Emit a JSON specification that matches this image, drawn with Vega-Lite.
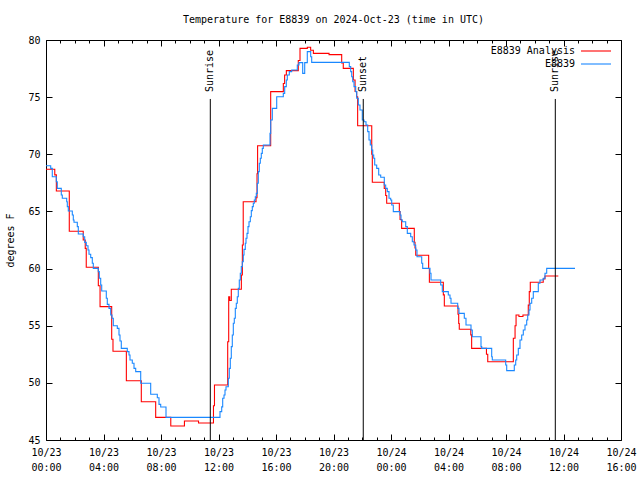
{
  "$schema": "https://vega.github.io/schema/vega-lite/v6.json",
  "width": 575,
  "height": 400,
  "autosize": "none",
  "padding": {"left": 46, "top": 40, "right": 19, "bottom": 40},
  "background": "white",
  "config": {
    "view": {"stroke": "black", "strokeWidth": 1},
    "font": "DejaVu Sans Mono",
    "axis": {"grid": false, "domain": false, "tickColor": "black", "labelColor": "black", "labelFont": "DejaVu Sans Mono", "labelFontSize": 10, "titleFont": "DejaVu Sans Mono", "titleFontSize": 10, "titleFontWeight": "normal", "titleColor": "black"}
  },
  "title": {"text": "Temperature for E8839 on 2024-Oct-23 (time in UTC)", "font": "DejaVu Sans Mono", "fontSize": 10, "fontWeight": "normal", "color": "black", "anchor": "middle", "offset": 10},
  "datasets": {
    "temps": [
      {"series": "E8839 Analysis", "h": 0, "T": 68.69},
      {"series": "E8839 Analysis", "h": 0.61, "T": 68.2},
      {"series": "E8839 Analysis", "h": 0.72, "T": 66.79},
      {"series": "E8839 Analysis", "h": 1.62, "T": 63.26},
      {"series": "E8839 Analysis", "h": 2.59, "T": 62.5},
      {"series": "E8839 Analysis", "h": 2.73, "T": 61.77},
      {"series": "E8839 Analysis", "h": 2.8, "T": 60.11},
      {"series": "E8839 Analysis", "h": 3.64, "T": 58.5},
      {"series": "E8839 Analysis", "h": 3.76, "T": 56.67},
      {"series": "E8839 Analysis", "h": 4.57, "T": 53.81},
      {"series": "E8839 Analysis", "h": 4.66, "T": 52.76},
      {"series": "E8839 Analysis", "h": 5.59, "T": 50.19},
      {"series": "E8839 Analysis", "h": 6.63, "T": 48.35},
      {"series": "E8839 Analysis", "h": 7.63, "T": 46.98},
      {"series": "E8839 Analysis", "h": 8.68, "T": 46.23},
      {"series": "E8839 Analysis", "h": 9.63, "T": 46.66},
      {"series": "E8839 Analysis", "h": 10.61, "T": 46.49},
      {"series": "E8839 Analysis", "h": 11.65, "T": 48.0},
      {"series": "E8839 Analysis", "h": 11.72, "T": 49.81},
      {"series": "E8839 Analysis", "h": 12.64, "T": 53.6},
      {"series": "E8839 Analysis", "h": 12.71, "T": 57.54},
      {"series": "E8839 Analysis", "h": 12.78, "T": 57.2},
      {"series": "E8839 Analysis", "h": 12.89, "T": 58.19},
      {"series": "E8839 Analysis", "h": 13.59, "T": 59.44},
      {"series": "E8839 Analysis", "h": 13.66, "T": 62.06},
      {"series": "E8839 Analysis", "h": 13.72, "T": 65.85},
      {"series": "E8839 Analysis", "h": 14.61, "T": 66.2},
      {"series": "E8839 Analysis", "h": 14.68, "T": 68.3},
      {"series": "E8839 Analysis", "h": 14.72, "T": 70.75},
      {"series": "E8839 Analysis", "h": 15.63, "T": 75.48},
      {"series": "E8839 Analysis", "h": 16.51, "T": 76.2},
      {"series": "E8839 Analysis", "h": 16.6, "T": 76.94},
      {"series": "E8839 Analysis", "h": 16.72, "T": 77.32},
      {"series": "E8839 Analysis", "h": 17.55, "T": 78.2},
      {"series": "E8839 Analysis", "h": 17.67, "T": 79.27},
      {"series": "E8839 Analysis", "h": 18.18, "T": 79.36},
      {"series": "E8839 Analysis", "h": 18.41, "T": 79.1},
      {"series": "E8839 Analysis", "h": 18.6, "T": 78.83},
      {"series": "E8839 Analysis", "h": 19.69, "T": 78.72},
      {"series": "E8839 Analysis", "h": 20.57, "T": 78.0},
      {"series": "E8839 Analysis", "h": 20.68, "T": 77.52},
      {"series": "E8839 Analysis", "h": 21.38, "T": 76.5},
      {"series": "E8839 Analysis", "h": 21.5, "T": 75.5},
      {"series": "E8839 Analysis", "h": 21.61, "T": 75.04},
      {"series": "E8839 Analysis", "h": 21.68, "T": 72.5},
      {"series": "E8839 Analysis", "h": 22.66, "T": 70.0},
      {"series": "E8839 Analysis", "h": 22.7, "T": 67.55},
      {"series": "E8839 Analysis", "h": 23.53, "T": 67.0},
      {"series": "E8839 Analysis", "h": 23.63, "T": 66.4},
      {"series": "E8839 Analysis", "h": 23.7, "T": 65.71},
      {"series": "E8839 Analysis", "h": 24.58, "T": 65.0},
      {"series": "E8839 Analysis", "h": 24.63, "T": 64.3},
      {"series": "E8839 Analysis", "h": 24.74, "T": 63.52},
      {"series": "E8839 Analysis", "h": 25.62, "T": 62.3},
      {"series": "E8839 Analysis", "h": 25.67, "T": 61.8},
      {"series": "E8839 Analysis", "h": 25.72, "T": 61.16},
      {"series": "E8839 Analysis", "h": 26.62, "T": 60.0},
      {"series": "E8839 Analysis", "h": 26.67, "T": 58.8},
      {"series": "E8839 Analysis", "h": 27.64, "T": 57.7},
      {"series": "E8839 Analysis", "h": 27.71, "T": 56.72},
      {"series": "E8839 Analysis", "h": 28.66, "T": 56.0},
      {"series": "E8839 Analysis", "h": 28.71, "T": 55.2},
      {"series": "E8839 Analysis", "h": 28.75, "T": 54.69},
      {"series": "E8839 Analysis", "h": 29.55, "T": 54.2},
      {"series": "E8839 Analysis", "h": 29.61, "T": 53.02},
      {"series": "E8839 Analysis", "h": 30.64, "T": 52.5},
      {"series": "E8839 Analysis", "h": 30.73, "T": 51.85},
      {"series": "E8839 Analysis", "h": 32.51, "T": 53.9},
      {"series": "E8839 Analysis", "h": 32.63, "T": 55.0},
      {"series": "E8839 Analysis", "h": 32.7, "T": 55.94},
      {"series": "E8839 Analysis", "h": 32.9, "T": 55.8},
      {"series": "E8839 Analysis", "h": 33.18, "T": 55.94},
      {"series": "E8839 Analysis", "h": 33.55, "T": 56.8},
      {"series": "E8839 Analysis", "h": 33.62, "T": 57.98},
      {"series": "E8839 Analysis", "h": 33.69, "T": 58.8},
      {"series": "E8839 Analysis", "h": 34.59, "T": 59.1},
      {"series": "E8839 Analysis", "h": 34.71, "T": 59.35},
      {"series": "E8839 Analysis", "h": 35.64, "T": 59.35},
      {"series": "E8839", "h": 0, "T": 69.0},
      {"series": "E8839", "h": 0.327, "T": 68.77},
      {"series": "E8839", "h": 0.438, "T": 68.04},
      {"series": "E8839", "h": 0.717, "T": 67.6},
      {"series": "E8839", "h": 0.786, "T": 67.02},
      {"series": "E8839", "h": 1.064, "T": 66.44},
      {"series": "E8839", "h": 1.134, "T": 66.15},
      {"series": "E8839", "h": 1.44, "T": 65.85},
      {"series": "E8839", "h": 1.482, "T": 65.42},
      {"series": "E8839", "h": 1.551, "T": 65.04},
      {"series": "E8839", "h": 1.83, "T": 64.69},
      {"series": "E8839", "h": 1.899, "T": 64.25},
      {"series": "E8839", "h": 1.948, "T": 64.05},
      {"series": "E8839", "h": 2.177, "T": 63.67},
      {"series": "E8839", "h": 2.247, "T": 63.02},
      {"series": "E8839", "h": 2.595, "T": 62.79},
      {"series": "E8839", "h": 2.692, "T": 62.29},
      {"series": "E8839", "h": 2.803, "T": 62.0},
      {"series": "E8839", "h": 2.922, "T": 61.63},
      {"series": "E8839", "h": 2.991, "T": 61.25},
      {"series": "E8839", "h": 3.11, "T": 60.96},
      {"series": "E8839", "h": 3.221, "T": 60.46},
      {"series": "E8839", "h": 3.29, "T": 60.02},
      {"series": "E8839", "h": 3.638, "T": 59.73},
      {"series": "E8839", "h": 3.708, "T": 59.15},
      {"series": "E8839", "h": 3.805, "T": 58.56},
      {"series": "E8839", "h": 3.875, "T": 58.04},
      {"series": "E8839", "h": 4.195, "T": 57.4},
      {"series": "E8839", "h": 4.264, "T": 56.87},
      {"series": "E8839", "h": 4.383, "T": 56.52},
      {"series": "E8839", "h": 4.501, "T": 55.94},
      {"series": "E8839", "h": 4.591, "T": 55.65},
      {"series": "E8839", "h": 4.682, "T": 55.0},
      {"series": "E8839", "h": 4.96, "T": 54.77},
      {"series": "E8839", "h": 5.078, "T": 54.19},
      {"series": "E8839", "h": 5.148, "T": 53.66},
      {"series": "E8839", "h": 5.238, "T": 53.02},
      {"series": "E8839", "h": 5.656, "T": 52.73},
      {"series": "E8839", "h": 5.774, "T": 52.44},
      {"series": "E8839", "h": 5.843, "T": 52.0},
      {"series": "E8839", "h": 6.003, "T": 51.71},
      {"series": "E8839", "h": 6.122, "T": 51.27},
      {"series": "E8839", "h": 6.24, "T": 50.98},
      {"series": "E8839", "h": 6.588, "T": 49.96},
      {"series": "E8839", "h": 7.283, "T": 49.0},
      {"series": "E8839", "h": 7.743, "T": 48.7},
      {"series": "E8839", "h": 7.861, "T": 48.12},
      {"series": "E8839", "h": 7.979, "T": 47.89},
      {"series": "E8839", "h": 8.348, "T": 46.98},
      {"series": "E8839", "h": 12.104, "T": 47.48},
      {"series": "E8839", "h": 12.223, "T": 47.9},
      {"series": "E8839", "h": 12.292, "T": 48.65},
      {"series": "E8839", "h": 12.383, "T": 48.94},
      {"series": "E8839", "h": 12.452, "T": 49.37},
      {"series": "E8839", "h": 12.522, "T": 49.66},
      {"series": "E8839", "h": 12.682, "T": 50.4},
      {"series": "E8839", "h": 12.751, "T": 51.27},
      {"series": "E8839", "h": 12.821, "T": 52.15},
      {"series": "E8839", "h": 12.89, "T": 53.17},
      {"series": "E8839", "h": 12.96, "T": 54.19},
      {"series": "E8839", "h": 13.03, "T": 55.21},
      {"series": "E8839", "h": 13.099, "T": 55.65},
      {"series": "E8839", "h": 13.169, "T": 56.52},
      {"series": "E8839", "h": 13.238, "T": 56.96},
      {"series": "E8839", "h": 13.308, "T": 57.54},
      {"series": "E8839", "h": 13.377, "T": 58.27},
      {"series": "E8839", "h": 13.447, "T": 59.0},
      {"series": "E8839", "h": 13.517, "T": 59.59},
      {"series": "E8839", "h": 13.586, "T": 60.17},
      {"series": "E8839", "h": 13.656, "T": 60.6},
      {"series": "E8839", "h": 13.725, "T": 61.19},
      {"series": "E8839", "h": 13.774, "T": 61.68},
      {"series": "E8839", "h": 13.864, "T": 62.21},
      {"series": "E8839", "h": 13.913, "T": 62.65},
      {"series": "E8839", "h": 13.983, "T": 63.08},
      {"series": "E8839", "h": 14.052, "T": 63.67},
      {"series": "E8839", "h": 14.122, "T": 64.1},
      {"series": "E8839", "h": 14.212, "T": 64.54},
      {"series": "E8839", "h": 14.282, "T": 65.07},
      {"series": "E8839", "h": 14.351, "T": 65.42},
      {"series": "E8839", "h": 14.421, "T": 65.71},
      {"series": "E8839", "h": 14.49, "T": 66.0},
      {"series": "E8839", "h": 14.56, "T": 66.29},
      {"series": "E8839", "h": 14.63, "T": 66.58},
      {"series": "E8839", "h": 14.699, "T": 67.46},
      {"series": "E8839", "h": 14.769, "T": 68.48},
      {"series": "E8839", "h": 14.838, "T": 69.21},
      {"series": "E8839", "h": 14.908, "T": 69.65},
      {"series": "E8839", "h": 14.977, "T": 70.08},
      {"series": "E8839", "h": 15.047, "T": 70.52},
      {"series": "E8839", "h": 15.117, "T": 70.81},
      {"series": "E8839", "h": 15.583, "T": 71.83},
      {"series": "E8839", "h": 15.631, "T": 73.0},
      {"series": "E8839", "h": 15.743, "T": 74.02},
      {"series": "E8839", "h": 16.049, "T": 75.04},
      {"series": "E8839", "h": 16.508, "T": 75.33},
      {"series": "E8839", "h": 16.605, "T": 75.92},
      {"series": "E8839", "h": 16.717, "T": 76.5},
      {"series": "E8839", "h": 16.786, "T": 76.94},
      {"series": "E8839", "h": 16.925, "T": 77.23},
      {"series": "E8839", "h": 17.092, "T": 77.37},
      {"series": "E8839", "h": 17.482, "T": 77.81},
      {"series": "E8839", "h": 17.6, "T": 78.02},
      {"series": "E8839", "h": 17.857, "T": 77.08},
      {"series": "E8839", "h": 17.997, "T": 78.02},
      {"series": "E8839", "h": 18.177, "T": 78.98},
      {"series": "E8839", "h": 18.414, "T": 78.54},
      {"series": "E8839", "h": 18.483, "T": 78.04},
      {"series": "E8839", "h": 21.099, "T": 77.67},
      {"series": "E8839", "h": 21.197, "T": 77.23},
      {"series": "E8839", "h": 21.266, "T": 76.79},
      {"series": "E8839", "h": 21.336, "T": 76.35},
      {"series": "E8839", "h": 21.426, "T": 75.92},
      {"series": "E8839", "h": 21.544, "T": 75.48},
      {"series": "E8839", "h": 21.614, "T": 74.9},
      {"series": "E8839", "h": 21.725, "T": 74.31},
      {"series": "E8839", "h": 21.843, "T": 73.88},
      {"series": "E8839", "h": 22.003, "T": 73.0},
      {"series": "E8839", "h": 22.122, "T": 72.85},
      {"series": "E8839", "h": 22.261, "T": 72.56},
      {"series": "E8839", "h": 22.379, "T": 71.98},
      {"series": "E8839", "h": 22.47, "T": 71.25},
      {"series": "E8839", "h": 22.56, "T": 70.81},
      {"series": "E8839", "h": 22.657, "T": 70.38},
      {"series": "E8839", "h": 22.727, "T": 69.94},
      {"series": "E8839", "h": 22.797, "T": 69.65},
      {"series": "E8839", "h": 22.866, "T": 69.06},
      {"series": "E8839", "h": 23.005, "T": 68.77},
      {"series": "E8839", "h": 23.144, "T": 68.19},
      {"series": "E8839", "h": 23.283, "T": 67.99},
      {"series": "E8839", "h": 23.534, "T": 67.31},
      {"series": "E8839", "h": 23.631, "T": 67.02},
      {"series": "E8839", "h": 23.743, "T": 66.73},
      {"series": "E8839", "h": 23.861, "T": 66.15},
      {"series": "E8839", "h": 23.979, "T": 66.0},
      {"series": "E8839", "h": 24.049, "T": 65.56},
      {"series": "E8839", "h": 24.16, "T": 64.98},
      {"series": "E8839", "h": 24.626, "T": 64.69},
      {"series": "E8839", "h": 24.696, "T": 64.25},
      {"series": "E8839", "h": 24.786, "T": 64.1},
      {"series": "E8839", "h": 25.023, "T": 63.67},
      {"series": "E8839", "h": 25.134, "T": 63.08},
      {"series": "E8839", "h": 25.37, "T": 62.79},
      {"series": "E8839", "h": 25.482, "T": 62.35},
      {"series": "E8839", "h": 25.6, "T": 62.06},
      {"series": "E8839", "h": 25.718, "T": 61.63},
      {"series": "E8839", "h": 25.809, "T": 61.04},
      {"series": "E8839", "h": 26.136, "T": 60.46},
      {"series": "E8839", "h": 26.205, "T": 60.02},
      {"series": "E8839", "h": 26.713, "T": 59.59},
      {"series": "E8839", "h": 26.783, "T": 59.0},
      {"series": "E8839", "h": 27.457, "T": 58.56},
      {"series": "E8839", "h": 27.569, "T": 57.98},
      {"series": "E8839", "h": 27.986, "T": 57.69},
      {"series": "E8839", "h": 28.104, "T": 57.4},
      {"series": "E8839", "h": 28.174, "T": 56.96},
      {"series": "E8839", "h": 28.64, "T": 56.52},
      {"series": "E8839", "h": 28.73, "T": 56.08},
      {"series": "E8839", "h": 29.099, "T": 55.65},
      {"series": "E8839", "h": 29.217, "T": 55.06},
      {"series": "E8839", "h": 29.565, "T": 54.63},
      {"series": "E8839", "h": 29.656, "T": 54.04},
      {"series": "E8839", "h": 30.261, "T": 53.17},
      {"series": "E8839", "h": 30.31, "T": 53.02},
      {"series": "E8839", "h": 31.005, "T": 52.29},
      {"series": "E8839", "h": 31.047, "T": 52.0},
      {"series": "E8839", "h": 31.979, "T": 51.56},
      {"series": "E8839", "h": 32.049, "T": 51.07},
      {"series": "E8839", "h": 32.577, "T": 51.56},
      {"series": "E8839", "h": 32.675, "T": 52.0},
      {"series": "E8839", "h": 32.744, "T": 52.44},
      {"series": "E8839", "h": 32.856, "T": 53.02},
      {"series": "E8839", "h": 32.974, "T": 53.75},
      {"series": "E8839", "h": 33.092, "T": 54.19},
      {"series": "E8839", "h": 33.203, "T": 54.63},
      {"series": "E8839", "h": 33.322, "T": 55.06},
      {"series": "E8839", "h": 33.44, "T": 55.5},
      {"series": "E8839", "h": 33.51, "T": 55.94},
      {"series": "E8839", "h": 33.6, "T": 56.38},
      {"series": "E8839", "h": 33.67, "T": 56.96},
      {"series": "E8839", "h": 33.788, "T": 57.4},
      {"series": "E8839", "h": 33.899, "T": 57.98},
      {"series": "E8839", "h": 34.247, "T": 58.71},
      {"series": "E8839", "h": 34.365, "T": 59.0},
      {"series": "E8839", "h": 34.595, "T": 59.15},
      {"series": "E8839", "h": 34.713, "T": 59.59},
      {"series": "E8839", "h": 34.831, "T": 60.02},
      {"series": "E8839", "h": 36.8, "T": 60.02}
    ],
    "events": [
      {"event": "Sunrise", "h": 11.43},
      {"event": "Sunset", "h": 22.07},
      {"event": "Sunrise", "h": 35.43}
    ]
  },
  "layer": [
    {
      "data": {"name": "temps"},
      "mark": {"type": "line", "interpolate": "step-after", "strokeWidth": 1.1},
      "encoding": {
        "x": {"field": "h", "type": "quantitative", "scale": {"domain": [0, 40], "nice": false, "zero": false},
          "axis": {"orient": "bottom", "title": null, "values": [0,1,2,3,4,5,6,7,8,9,10,11,12,13,14,15,16,17,18,19,20,21,22,23,24,25,26,27,28,29,30,31,32,33,34,35,36,37,38,39,40],
            "tickSize": {"condition": {"test": "datum.value % 4 === 0", "value": -6}, "value": -3},
            "labelExpr": "datum.value % 4 === 0 ? [datum.value < 24 ? '10/23' : '10/24', (datum.value % 24 < 10 ? '0' : '') + (datum.value % 24) + ':00'] : ''",
            "labelPadding": 13, "labelBaseline": "top", "labelLineHeight": 15, "labelOverlap": false, "labelFlush": false, "labelBound": false}},
        "y": {"field": "T", "type": "quantitative", "scale": {"domain": [45, 80], "nice": false, "zero": false},
          "axis": {"orient": "left", "title": "degrees F", "values": [45,50,55,60,65,70,75,80], "tickSize": -6, "labelPadding": 12, "titlePadding": 12, "labelOverlap": false, "labelFlush": false, "labelBound": false}},
        "color": {"field": "series", "type": "nominal", "sort": ["E8839 Analysis", "E8839"],
          "scale": {"domain": ["E8839 Analysis", "E8839"], "range": ["#ff0000", "#1a88ff"]},
          "legend": {"orient": "none", "legendX": 544, "legendY": 5, "title": null, "symbolType": "M-3,0H3", "symbolSize": 100, "symbolStrokeWidth": 1.1, "symbolFillColor": "transparent", "labelAlign": "right", "labelOffset": -27, "labelFont": "DejaVu Sans Mono", "labelFontSize": 10, "labelColor": "black", "rowPadding": 2, "padding": 0}}
      }
    },
    {
      "data": {"name": "events"},
      "mark": {"type": "rule", "color": "black", "strokeWidth": 1},
      "encoding": {
        "x": {"field": "h", "type": "quantitative",
          "axis": {"orient": "top", "title": null, "labels": false, "values": [0,1,2,3,4,5,6,7,8,9,10,11,12,13,14,15,16,17,18,19,20,21,22,23,24,25,26,27,28,29,30,31,32,33,34,35,36,37,38,39,40],
            "tickSize": {"condition": {"test": "datum.value % 4 === 0", "value": -6}, "value": -3}}},
        "y": {"datum": 45, "type": "quantitative", "axis": {"orient": "right", "title": null, "labels": false, "values": [45,50,55,60,65,70,75,80], "tickSize": -6}},
        "y2": {"datum": 74.84}
      }
    },
    {
      "data": {"name": "events"},
      "mark": {"type": "text", "angle": 270, "align": "left", "baseline": "middle", "font": "DejaVu Sans Mono", "fontSize": 10, "color": "black"},
      "encoding": {
        "x": {"field": "h", "type": "quantitative", "axis": null},
        "y": {"datum": 75.45, "type": "quantitative", "axis": null},
        "text": {"field": "event", "type": "nominal"}
      }
    }
  ],
  "resolve": {"axis": {"x": "independent", "y": "independent"}}
}
